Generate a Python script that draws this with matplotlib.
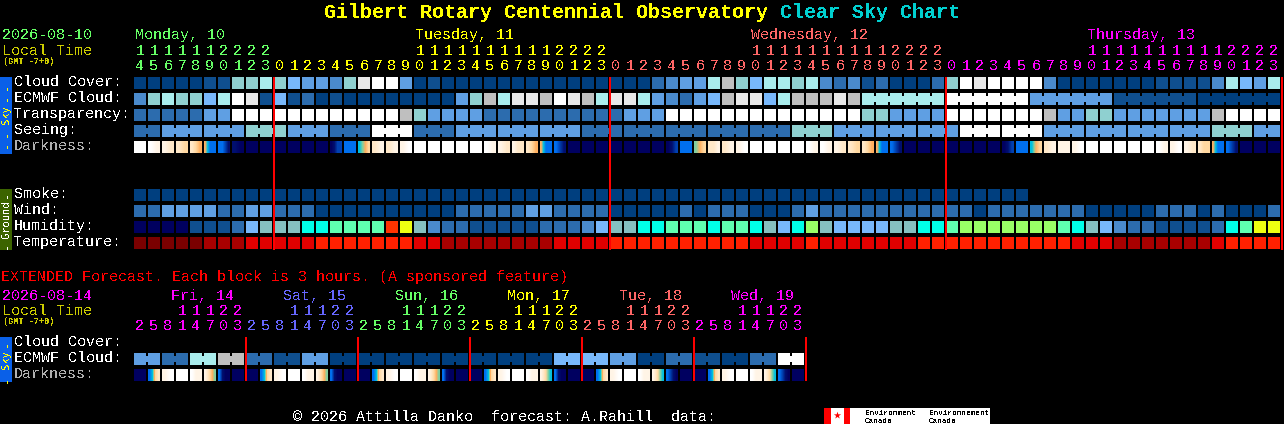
import numpy as np
import matplotlib
matplotlib.use("Agg")
import matplotlib.pyplot as plt
from matplotlib.colors import LinearSegmentedColormap

# Colour scales (index = level in the rows below)
CLOUD_COLORS = ["#003f7f", "#0f4f8f", "#2c6cae", "#4a8acc", "#5f9fe3", "#78b8fb",
                "#8fd0d0", "#a9ecec", "#bfbfbf", "#e8e8e8", "#ffffff"]
HUMIDITY_COLORS = ["#00005f", "#0f4f8f", "#2c6cae", "#4a8acc", "#78b8fb", "#85c0c0",
                   "#00ffe8", "#5fffb0", "#99ff66", "#eeff11", "#ff3300"]
TEMP_COLORS = ["#7a0000", "#a80000", "#e00000", "#ff2000"]
DARK_COLORS = ["#ffffff", "#fff4e6", "#ffe8c8", "#ffd8a0", "#ffb060", "#80d0a0",
               "#00c0e0", "#0070f0", "#0040b0", "#001070", "#000060"]

# Main chart, one value per hour
CLOUD = [0, 0, 0, 0, 0, 1, 1, 6, 6, 7, 6, 5, 4, 4, 3, 6, 9, 10, 10, 4, 0,
         1, 0, 0, 0, 0, 0, 0, 0, 0, 0, 0, 0, 0, 0, 0, 0, 2, 3, 4, 4, 7, 8, 6, 5, 7, 7, 6, 7, 3, 2, 3,
         1, 2, 0, 0, 0, 2, 6, 10, 9, 10, 10, 10, 10, 3, 0, 0, 0, 0, 0, 0, 0, 1, 1, 1, 1, 3, 7, 5, 4, 7]
ECMWF = [3, 6, 7, 6, 6, 5, 7, 10, 9, 1, 5, 1, 2, 0, 1, 0, 0, 0, 0, 0, 0,
         0, 0, 4, 6, 8, 7, 9, 9, 8, 10, 9, 8, 7, 9, 9, 7, 4, 3, 2, 4, 5, 8, 9, 9, 5, 7, 8, 8, 8, 9, 8,
         7, 7, 7, 7, 7, 7, 10, 10, 10, 10, 10, 10, 4, 4, 4, 4, 4, 4, 1, 1, 1, 1, 1, 1, 0, 0, 0, 0, 0, 0]
TRANSPARENCY = [2, 2, 2, 2, 2, 4, 4, 10, 10, 10, 10, 10, 10, 10, 10, 10, 10, 10, 10, 8, 6,
                4, 4, 4, 4, 2, 2, 2, 2, 2, 2, 2, 2, 2, 2, 4, 4, 4, 10, 10, 10, 10, 10, 10, 10, 10, 10, 10, 10, 10, 10, 10,
                6, 6, 4, 4, 4, 4, 10, 10, 10, 10, 10, 10, 10, 8, 4, 4, 6, 6, 4, 4, 4, 4, 4, 4, 4, 8, 10, 10, 10, 10]
SEEING = [2, 2, 4, 4, 4, 4, 4, 4, 6, 6, 6, 4, 4, 4, 2, 2, 2, 10, 10, 10, 2,
          2, 2, 4, 4, 4, 4, 4, 4, 4, 4, 4, 2, 2, 2, 2, 2, 2, 2, 2, 2, 2, 2, 2, 2, 2, 2, 6, 6, 6, 4, 4,
          4, 4, 4, 4, 4, 4, 4, 10, 10, 10, 10, 10, 10, 4, 4, 4, 4, 4, 4, 4, 4, 4, 4, 4, 4, 6, 6, 6, 4, 4]
DARKNESS = [[0], [0, 1], [1, 2], [2, 3], [2, 3, 4], [4, 6, 7, 7, 7], [7, 7, 8, 9], [9, 10], [10], [10],
            [10], [10], [10], [10], [10, 9, 8, 8], [7], [6, 5, 4, 3], [2, 1], [2, 1], [1, 0], [0],
            [0], [0], [0], [0], [0, 1], [1, 2], [1, 2, 2], [2, 3, 4], [4, 6, 7, 7, 7], [7, 8, 9],
            [10], [10], [10], [10], [10], [10], [10], [10, 9, 8], [7], [5, 4, 3], [2, 2, 1], [2, 1], [1, 0],
            [0], [0], [0], [0], [0, 1], [0, 1], [1, 2], [2, 3],
            [2, 3, 4], [4, 6, 7, 7, 7], [7, 8, 9], [10], [10], [10], [10], [10], [10], [10],
            [10, 9, 8], [7], [6, 4, 3], [2, 1], [1, 1], [1, 0], [0], [0], [0], [0], [0], [0, 1], [1, 0],
            [1, 2], [2, 3, 3], [4, 6, 7, 7, 7], [7, 8, 9], [10], [10], [10]]
SMOKE = [0] * 64
WIND = [2, 2, 4, 4, 4, 4, 2, 2, 4, 4, 2, 2, 2, 0, 0, 0, 0, 0, 0, 0, 0,
        0, 0, 2, 2, 2, 2, 2, 4, 4, 2, 2, 2, 2, 0, 0, 0, 0, 0, 2, 0, 2, 2, 2, 0, 0, 0, 2, 4, 2, 2, 2,
        2, 2, 2, 2, 2, 2, 2, 2, 0, 2, 2, 2, 2, 2, 2, 2, 0, 0, 0, 0, 0, 2, 2, 2, 0, 2, 0, 0, 0, 2]
HUMIDITY = [0, 0, 0, 0, 1, 1, 1, 2, 4, 5, 5, 5, 6, 6, 7, 7, 7, 7, 10, 9, 5,
            3, 2, 2, 1, 1, 1, 1, 1, 2, 2, 2, 3, 4, 5, 5, 6, 6, 7, 7, 7, 6, 7, 7, 6, 5, 4, 6, 8, 5, 4, 4,
            4, 4, 5, 5, 6, 6, 7, 8, 8, 8, 8, 8, 8, 8, 7, 6, 5, 4, 3, 2, 2, 1, 1, 1, 1, 2, 6, 7, 9, 9]
TEMPERATURE = [0, 0, 0, 0, 0, 1, 1, 1, 2, 2, 2, 2, 2, 3, 3, 3, 3, 3, 3, 3, 2,
               2, 1, 1, 1, 1, 1, 1, 1, 1, 2, 2, 2, 2, 3, 3, 3, 3, 3, 3, 3, 3, 3, 3, 2, 2, 2, 2, 3, 2, 2, 2,
               2, 2, 2, 2, 3, 3, 3, 3, 3, 3, 3, 3, 3, 3, 3, 2, 2, 2, 1, 1, 1, 1, 1, 1, 1, 2, 3, 3, 3, 3]

# Extended forecast, one value per 3 hours
EXT_ECMWF = [4, 4, 2, 2, 7, 7, 8, 8, 2, 2, 1, 1, 4, 4, 0, 0, 0, 0, 0, 0, 0, 0, 0, 0,
             0, 0, 0, 0, 0, 0, 5, 5, 5, 5, 4, 4, 0, 0, 2, 2, 1, 1, 0, 0, 2, 2, 10, 10]
EXT_DARKNESS = [[10], [7, 6, 3, 2], [1, 0], [0], [0, 1, 1], [1, 2, 3, 4, 5], [7, 9, 10, 10],
                [10], [10], [7, 6, 3, 2], [1, 0], [0], [0, 1, 1], [1, 2, 3, 4, 5], [7, 9, 10, 10],
                [10], [10], [7, 6, 3, 2], [1, 0], [0], [0, 1, 1], [1, 2, 3, 4, 5], [7, 9, 10, 10],
                [10], [10], [7, 6, 3, 2], [1, 0], [0], [0, 1, 1], [1, 2, 3, 5, 6], [7, 9, 10, 10],
                [10], [10], [7, 6, 3, 2], [1, 0], [0], [0, 1, 1], [1, 2, 3, 5, 6], [7, 8, 9, 10],
                [10], [10], [7, 6, 3, 2], [1, 0], [0], [0, 1, 1], [1, 2, 3, 5, 6], [7, 8, 9, 10],
                [10]]

# Labels
DAYS = ["Monday, 10", "Tuesday, 11", "Wednesday, 12", "Thursday, 13"]
DAY_X = [135, 415, 751, 1087]
DAY_COLS = [0, 10, 34, 58, 82]
DAY_COLORS = ["#66ff66", "#ffff00", "#ff6666", "#ff00ff"]
START_HOUR = 14
EXT_DAYS = ["Fri, 14", "Sat, 15", "Sun, 16", "Mon, 17", "Tue, 18", "Wed, 19"]
EXT_DAY_X = [171, 283, 395, 507, 619, 731]
EXT_COLORS = ["#ff00ff", "#6666ff", "#66ff66", "#ffff00", "#ff6666", "#ff00ff"]
EXT_HOURS = [2, 5, 8, 11, 14, 17, 20, 23]
SKY_LABELS = ["Cloud Cover:", "ECMWF Cloud:", "Transparency:", "Seeing:", "Darkness:"]
GROUND_LABELS = ["Smoke:", "Wind:", "Humidity:", "Temperature:"]
EXT_LABELS = ["Cloud Cover:", "ECMWF Cloud:", "Darkness:"]

X0, PITCH, CELL, ROW_H = 134, 14, 12, 12
MONO = "Liberation Mono"
FS = 10.8

plt.rcParams["text.antialiased"] = False
fig = plt.figure(figsize=(12.84, 4.24), dpi=100, facecolor="black")
ax = fig.add_axes([0, 0, 1, 1])
ax.set_facecolor("black")
dark_cmap = LinearSegmentedColormap.from_list("dark", DARK_COLORS)


def txt(x, y, s, color="white", size=FS, **kw):
    ax.text(x, y, s, color=color, fontsize=size, family=MONO, va="baseline", **kw)


def side_txt(y, s, color, size=7.5):
    ax.text(6, y, s, color=color, fontsize=size, family="DejaVu Sans Mono", rotation=90,
            ha="center", va="center")


def draw_row(values, palette, top, joins=None):
    xs = X0 + PITCH * np.arange(len(values))
    colors = [palette[v] for v in values]
    ax.bar(xs, ROW_H, CELL, bottom=top, align="edge", color=colors, linewidth=0)
    # blocks of one forecast run are joined by a short bridge
    if joins is not None:
        for i in range(len(values) - 1):
            if joins(i):
                ax.bar(xs[i] + CELL, 6, PITCH - CELL, bottom=top + 3, align="edge",
                       color=colors[i], linewidth=0)


def draw_darkness(samples, top):
    for i, cell in enumerate(samples):
        x = X0 + PITCH * i
        ax.imshow(np.array([cell], dtype=float), cmap=dark_cmap, vmin=0, vmax=10, aspect="auto",
                  extent=(x, x + CELL, top + ROW_H, top),
                  interpolation="bilinear" if len(cell) > 1 else "nearest")


# Title
txt(324, 18, "Gilbert Rotary Centennial Observatory", "#ffff00", 14.4, weight="bold")
txt(780, 18, "Clear Sky Chart", "#00d0d0", 14.4, weight="bold")

# Header of the main chart
txt(2, 39, "2026-08-10", DAY_COLORS[0])
txt(2, 55, "Local Time", "#cccc00")
txt(3, 64, "(GMT -7+0)", "#cccc00", 6.2, weight="bold")
for name, x, color in zip(DAYS, DAY_X, DAY_COLORS):
    txt(x, 39, name, color)
for d, color in enumerate(DAY_COLORS):
    for c in range(DAY_COLS[d], DAY_COLS[d + 1]):
        hour = (START_HOUR + c) % 24
        if hour >= 10:
            txt(X0 + PITCH * c + 6, 55, str(hour // 10), color, ha="center")
        txt(X0 + PITCH * c + 6, 70, str(hour % 10), color, ha="center")

# Main rows
for i, name in enumerate(SKY_LABELS):
    txt(14, 86 + 16 * i, name, "#b0b0b0" if name == "Darkness:" else "white")
for i, name in enumerate(GROUND_LABELS):
    txt(14, 198 + 16 * i, name)
draw_row(CLOUD, CLOUD_COLORS, 77)
draw_row(ECMWF, CLOUD_COLORS, 93, joins=lambda i: i >= 52 and (i - 52) % 6 != 5)
draw_row(TRANSPARENCY, CLOUD_COLORS, 109)
draw_row(SEEING, CLOUD_COLORS, 125, joins=lambda i: (i - 2) % 3 != 2)
draw_darkness(DARKNESS, 141)
draw_row(SMOKE, CLOUD_COLORS, 189)
draw_row(WIND, CLOUD_COLORS, 205)
draw_row(HUMIDITY, HUMIDITY_COLORS, 221)
draw_row(TEMPERATURE, TEMP_COLORS, 237)

# Side bars
ax.bar(0, 77, 12, bottom=77, align="edge", color="#0a60e8", linewidth=0)
ax.bar(0, 61, 12, bottom=189, align="edge", color="#3c6400", linewidth=0)
ax.bar(0, 45, 12, bottom=337, align="edge", color="#0a60e8", linewidth=0)
for y in [86, 97, 133, 144]:
    side_txt(y, "-", "#ffff00", 9)
side_txt(115, "Sky", "#ffff00")
for y in [194, 245]:
    side_txt(y, "-", "white", 9)
side_txt(219, "Ground", "white")
for y in [343, 379]:
    side_txt(y, "-", "#ffff00", 9)
side_txt(360, "Sky", "#ffff00")

# Day separators
for c in DAY_COLS[1:]:
    ax.bar(X0 + PITCH * c - 1, 173, 2, bottom=77, align="edge", color="#ff0000", linewidth=0, zorder=5)

# Extended forecast
txt(1, 281, "EXTENDED Forecast. Each block is 3 hours. (A sponsored feature)", "#ff0000")
txt(2, 300, "2026-08-14", EXT_COLORS[0])
txt(2, 315, "Local Time", "#cccc00")
txt(3, 324, "(GMT -7+0)", "#cccc00", 6.2, weight="bold")
for d, (name, x, color) in enumerate(zip(EXT_DAYS, EXT_DAY_X, EXT_COLORS)):
    txt(x, 300, name, color)
    for k, hour in enumerate(EXT_HOURS):
        cx = X0 + PITCH * (8 * d + k) + 6
        if hour >= 10:
            txt(cx, 315, str(hour // 10), color, ha="center")
        txt(cx, 330, str(hour % 10), color, ha="center")
    ax.bar(X0 + PITCH * 8 * (d + 1) - 1, 44, 2, bottom=337, align="edge", color="#ff0000",
           linewidth=0, zorder=5)
for i, name in enumerate(EXT_LABELS):
    txt(14, 346 + 16 * i, name, "#b0b0b0" if name == "Darkness:" else "white")
draw_row(EXT_ECMWF, CLOUD_COLORS, 353, joins=lambda i: i % 2 == 0)
draw_darkness(EXT_DARKNESS, 369)

# Footer and Environment Canada banner
txt(293, 421, "\u00a9 2026 Attilla Danko  forecast: A.Rahill  data:")
ax.bar(824, 16, 166, bottom=408, align="edge", color="white", linewidth=0)
ax.bar([824, 844], 16, [7, 6], bottom=408, align="edge", color="#ff0000", linewidth=0)
ax.scatter([837], [415], s=30, marker="*", color="#ff0000", linewidths=0)
for x, top, bottom in [(865, "Environment", "Canada"), (929, "Environnement", "Canada")]:
    txt(x, 415, top, "black", 5.5)
    txt(x, 423, bottom, "black", 5.5)

ax.set_xlim(0, 1284)
ax.set_ylim(424, 0)
ax.axis("off")
fig.savefig("out.png", dpi=100, facecolor="black")
